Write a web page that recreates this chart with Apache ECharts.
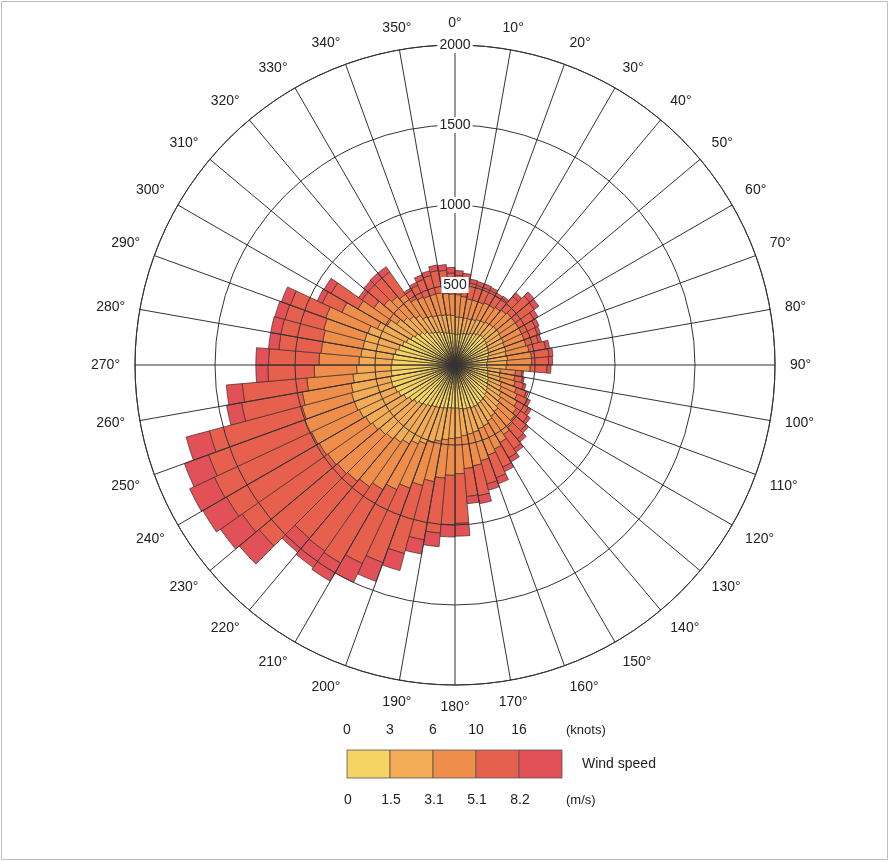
<!DOCTYPE html>
<html>
<head>
<meta charset="utf-8">
<script src="https://cdn.jsdelivr.net/npm/echarts@6/dist/echarts.min.js"></script>
<style>html,body{margin:0;padding:0;background:#fff}#c{width:890px;height:862px}</style>
</head>
<body>
<div id="c"></div>
<script>
// Direction bins (start angle of each 5° sector, clockwise from north)
const directions = ['0','5','10','15','20','25','30','35','40','45','50','55','60','65','70','75','80','85','90','95','100','105','110','115','120','125','130','135','140','145','150','155','160','165','170','175','180','185','190','195','200','205','210','215','220','225','230','235','240','245','250','255','260','265','270','275','280','285','290','295','300','305','310','315','320','325','330','335','340','345','350','355'];

// Counts per wind-speed class (m/s)
const speed0to1_5 = [190,195,200,205,210,220,230,240,245,245,240,235,230,225,220,210,205,200,200,205,210,215,225,230,240,250,260,270,275,280,285,285,280,280,275,270,270,270,275,280,285,290,300,310,320,335,350,370,390,400,410,410,400,400,395,390,380,365,350,335,320,305,290,270,250,240,230,220,210,205,200,195];
const speed1_5to3_1 = [110,105,100,95,95,95,90,90,90,95,100,100,105,105,110,115,125,125,120,80,75,80,85,90,95,100,105,110,115,125,135,140,155,160,170,185,190,200,210,225,240,255,270,280,285,280,280,275,270,270,260,250,240,215,205,200,205,220,230,200,170,140,130,130,130,110,110,110,115,115,115,115];
const speed3_1to5_1 = [140,130,120,120,115,115,110,110,115,120,120,125,125,130,130,145,150,155,150,95,95,95,100,110,115,120,125,130,140,155,160,175,185,200,205,225,230,240,255,275,295,315,330,340,345,345,340,335,330,330,320,310,290,265,250,250,255,265,280,245,210,175,160,160,160,130,130,130,135,140,135,135];
const speed5_1to8_2 = [120,115,100,95,95,85,70,70,110,150,145,110,95,90,80,105,110,105,105,40,50,55,65,70,80,85,90,95,110,110,125,150,150,190,175,310,310,345,370,440,495,510,530,490,465,640,655,670,670,640,600,385,405,290,315,265,265,250,235,135,195,90,130,150,170,60,80,110,120,140,145,130];
const speedOver8_2 = [30,30,25,25,25,20,20,15,30,35,35,30,25,20,20,25,25,25,25,10,10,15,15,20,20,20,20,25,25,30,30,40,40,50,45,80,75,85,90,110,125,130,130,125,115,160,165,170,170,160,150,95,100,75,80,65,65,65,60,35,50,25,35,40,40,15,20,30,30,35,35,35];

const seriesNames = ['0-1.5 m/s','1.5-3.1 m/s','3.1-5.1 m/s','5.1-8.2 m/s','>8.2 m/s'];
const seriesData = [speed0to1_5, speed1_5to3_1, speed3_1to5_1, speed5_1to8_2, speedOver8_2];
const colors = ['#F5D463','#F3AB55','#EF8D4B','#E6604D','#E25058'];

// Legend labels
const knotsLabels = ['0','3','6','10','16'];
const msLabels = ['0','1.5','3.1','5.1','8.2'];

const chart = echarts.init(document.getElementById('c'), null, {renderer:'canvas'});
const center = [455, 365];
const radius = 320;
const font = '"Liberation Sans", Arial, sans-serif';

const legendX = 347, legendY = 750, boxW = 43, boxH = 28;
const graphics = [
  {type:'rect', shape:{x:1.5,y:1.5,width:886,height:858}, style:{fill:'none', stroke:'#bdbdbd', lineWidth:1}, silent:true}
];
colors.forEach((c,i)=>{
  graphics.push({type:'rect', shape:{x:legendX+i*boxW, y:legendY, width:boxW, height:boxH}, style:{fill:c, stroke:'#555', lineWidth:0.8}});
});
knotsLabels.forEach((t,i)=>{
  graphics.push({type:'text', x:legendX+i*boxW, y:730, style:{text:t, fill:'#222', font:'14px '+font, textAlign:'center', textVerticalAlign:'middle'}});
});
msLabels.forEach((t,i)=>{
  graphics.push({type:'text', x:legendX+i*boxW+1, y:800, style:{text:t, fill:'#222', font:'14px '+font, textAlign:'center', textVerticalAlign:'middle'}});
});
graphics.push({type:'text', x:566, y:730, style:{text:'(knots)', fill:'#222', font:'13px '+font, textAlign:'left', textVerticalAlign:'middle'}});
graphics.push({type:'text', x:566, y:800, style:{text:'(m/s)', fill:'#222', font:'13px '+font, textAlign:'left', textVerticalAlign:'middle'}});
graphics.push({type:'text', x:582, y:764, style:{text:'Wind speed', fill:'#222', font:'14px '+font, textAlign:'left', textVerticalAlign:'middle'}});

const option = {
  backgroundColor:'#ffffff',
  animation:false,
  polar:[
    {center:center, radius:radius},
    {center:center, radius:radius}
  ],
  angleAxis:[
    {polarIndex:0, type:'category', data:directions, startAngle:90, clockwise:true, boundaryGap:true,
     axisLine:{show:false}, axisTick:{show:false}, axisLabel:{show:false}, splitLine:{show:false}},
    {polarIndex:1, type:'value', min:0, max:360, interval:10, startAngle:90, clockwise:true, z:5,
     axisLine:{show:true, lineStyle:{color:'#333', width:1}},
     axisTick:{show:false},
     splitLine:{show:true, lineStyle:{color:'#333', width:1}},
     axisLabel:{show:true, margin:15, color:'#222', fontSize:14, fontFamily:font,
       formatter:v=> v===360 ? '' : v+'°'}}
  ],
  radiusAxis:[
    {polarIndex:0, type:'value', min:0, max:2000, interval:500,
     axisLine:{show:false}, axisTick:{show:false}, axisLabel:{show:false}, splitLine:{show:false}},
    {polarIndex:1, type:'value', min:0, max:2000, interval:500, z:6,
     axisLine:{show:false}, axisTick:{show:false},
     splitLine:{show:true, lineStyle:{color:'#333', width:1}},
     axisLabel:{show:true, showMinLabel:false, margin:0, align:'center', verticalAlign:'middle', color:'#222', fontSize:14, fontFamily:font,
       backgroundColor:'#ffffff', padding:[1,2], formatter:v=>String(v)}}
  ],
  graphic:graphics,
  series: seriesData.map((d,i)=>({
    name:seriesNames[i], type:'bar', coordinateSystem:'polar', polarIndex:0, stack:'speed',
    data:d, barCategoryGap:'0%', z:2,
    itemStyle:{color:colors[i], borderColor:'#3d2f2a', borderWidth:0.7}
  }))
};
chart.setOption(option);
</script>
</body>
</html>
